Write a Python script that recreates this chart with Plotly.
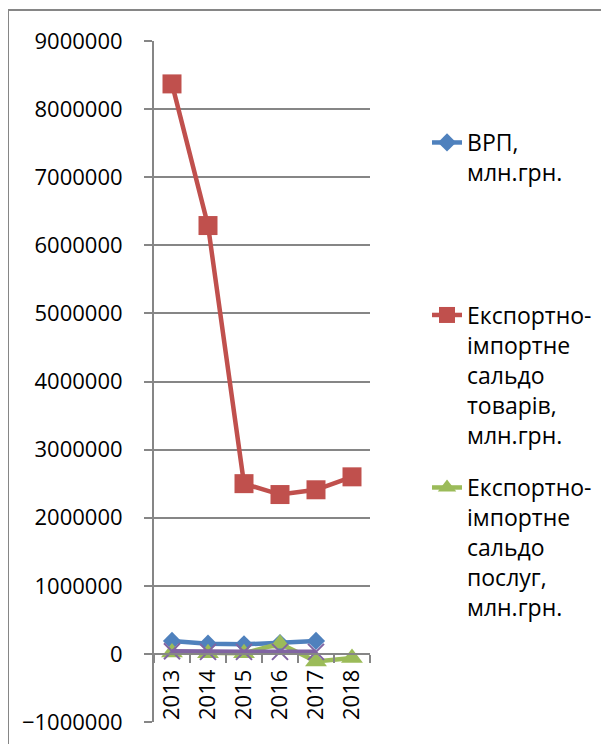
import plotly.graph_objects as go

years = ["2013", "2014", "2015", "2016", "2017", "2018"]
vrp_years = ["2013", "2014", "2015", "2016", "2017"]
vrp = [190000, 150000, 140000, 160000, 190000]
goods = [8370000, 6290000, 2500000, 2340000, 2410000, 2600000]
services = [20000, 10000, 10000, 150000, -110000, -60000]
extra_years = ["2013", "2014", "2015", "2016", "2017"]
extra = [40000, 30000, 30000, 30000, 30000]

names = [
    "ВРП,<br>млн.грн.<br> <br> <br> ",
    "Експортно-<br>імпортне<br>сальдо<br>товарів,<br>млн.грн.",
    "Експортно-<br>імпортне<br>сальдо<br>послуг,<br>млн.грн.",
]

BLUE = "#4F81BD"
RED = "#C0504D"
GREEN = "#9BBB59"
PURPLE = "#8064A2"
GRID = "#868686"
FONT = "Open Sans"

fig = go.Figure()
fig.add_trace(go.Scatter(x=vrp_years, y=vrp, name=names[0], mode="lines+markers",
                         legendgroup="a",
                         line=dict(color=BLUE, width=4.5),
                         marker=dict(symbol="diamond", size=14, color=BLUE)))
fig.add_trace(go.Scatter(x=years, y=goods, name=names[1], mode="lines+markers",
                         legendgroup="b",
                         line=dict(color=RED, width=4.5),
                         marker=dict(symbol="square", size=19, color=RED)))
fig.add_trace(go.Scatter(x=years, y=services, name=names[2], mode="lines+markers",
                         legendgroup="c",
                         line=dict(color=GREEN, width=4.5),
                         marker=dict(symbol="triangle-up", size=19, color=GREEN)))
fig.add_trace(go.Scatter(x=extra_years, y=extra, name="", mode="lines+markers",
                         showlegend=False, legendgroup="d",
                         line=dict(color=PURPLE, width=4.5),
                         marker=dict(symbol="x-thin", size=16, color=PURPLE,
                                     line=dict(color=PURPLE, width=2))))

fig.update_layout(
    width=609, height=744, autosize=False,
    margin=dict(l=146, r=247, t=33, b=30),
    paper_bgcolor="white", plot_bgcolor="white",
    font=dict(family=FONT, size=22, color="black"),
    legend=dict(x=1.264, xanchor="left", y=0.8825, yanchor="top",
                font=dict(family=FONT, size=23, color="black"),
                valign="top", bgcolor="rgba(0,0,0,0)",
                tracegroupgap=20, traceorder="grouped"),
    xaxis=dict(type="category", categoryorder="array", categoryarray=years,
               range=[-0.5, 5.5], anchor="free", position=0.1,
               showline=True, linecolor=GRID, linewidth=2,
               ticks="outside", tickson="boundaries", ticklen=8, tickcolor=GRID, tickwidth=2,
               tickangle=-90, showgrid=False, zeroline=False,
               tickfont=dict(family=FONT, size=22, color="black"),
               ticklabelstandoff=6),
    yaxis=dict(range=[-1000000, 9000000], dtick=1000000, tick0=0, tickformat="d",
               showline=True, linecolor=GRID, linewidth=2,
               ticks="outside", ticklen=8, tickcolor=GRID, tickwidth=2,
               showgrid=True, gridcolor=GRID, gridwidth=2, zeroline=False,
               tickfont=dict(family=FONT, size=22, color="black"),
               ticklabelstandoff=17),
)

fig.add_shape(type="rect", xref="paper", yref="paper",
              x0=(8 - 154) / 216, x1=3.0, y0=-0.2, y1=1 + 31 / 681,
              line=dict(color=GRID, width=2), fillcolor="rgba(0,0,0,0)", layer="below")

fig.write_html("out.html")
